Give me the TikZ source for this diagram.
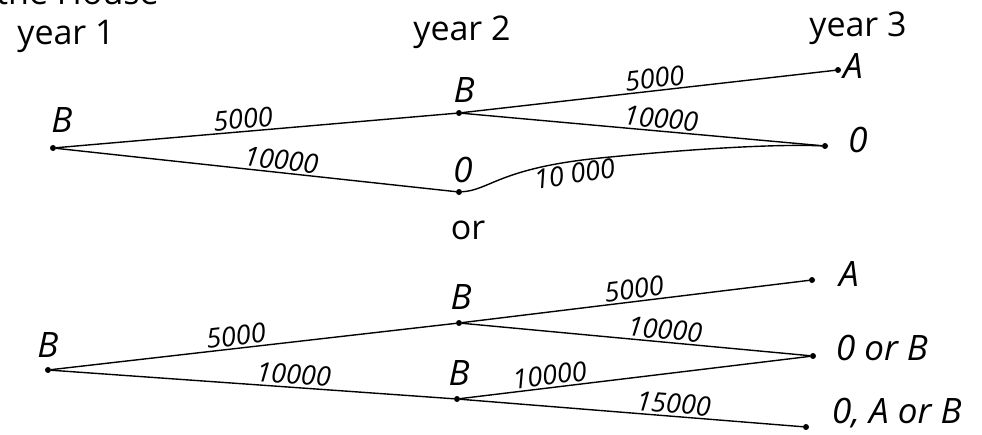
\documentclass[tikz,border=0pt]{standalone}
\usepackage{fontspec}
\setmainfont{Open Sans}
\usetikzlibrary{positioning, calc}

\tikzset{
	dot/.style={circle, fill=black, inner sep=0pt, minimum size=6pt},
	yearlbl/.style={font=\fontsize{34}{38}\selectfont, inner sep=0pt},
	statelbl/.style={font=\fontsize{35}{40}\selectfont\itshape, inner sep=0pt},
	cost/.style={font=\fontsize{27}{30}\selectfont\itshape, inner sep=2pt},
	branch/.style={line width=1.4pt},
}

\begin{document}
\begin{tikzpicture}[x=1pt, y=-1pt]
	\useasboundingbox (0,0) rectangle (982,435);
	
	% heading cut by the page edge
	\node[yearlbl, anchor=base west] (head) at (-4,5) {the House};
	
	\node[yearlbl] (y1) at (66,36) {year 1};
	\node[yearlbl] (y2) at (462,32) {year 2};
	\node[yearlbl] (y3) at (858,28) {year 3};
	
	% first tree
	\node[dot] (tb1) at (53,148) {};
	\node[dot] (tb2) at (459,113) {};
	\node[dot] (to2) at (459,192) {};
	\node[dot] (ta3) at (838,70) {};
	\node[dot] (to3) at (825,146) {};
	
	\node[statelbl] (tb1lbl) at (62,120) {B};
	\node[statelbl] (tb2lbl) at (464,90) {B};
	\node[statelbl] (to2lbl) at (463,170) {0};
	\node[statelbl, anchor=west] (ta3lbl) at (843,66) {A};
	\node[statelbl] (to3lbl) at (858,140) {0};
	
	\draw[branch] (tb1) -- node[cost, pos=0.47, above, sloped] {5000} (tb2);
	\draw[branch] (tb1) -- node[cost, pos=0.56, above, sloped] {10000} (to2);
	\draw[branch] (tb2) -- node[cost, pos=0.52, above, sloped] {5000} (ta3);
	\draw[branch] (tb2) -- node[cost, pos=0.55, above, sloped] {10000} (to3);
	\draw[branch] (to2) .. controls (490,190) and (500,168) .. node[cost, pos=0.9, below, sloped] {10 000} (600,158) .. controls (700,148) and (780,144) .. (to3);
	
	\node[yearlbl] (or) at (468,230) {or};
	
	% second tree
	\node[dot] (bb1) at (48,370) {};
	\node[dot] (bbt) at (459,323) {};
	\node[dot] (bbb) at (457,399) {};
	\node[dot] (ba3) at (812,280) {};
	\node[dot] (bob3) at (813,356) {};
	\node[dot] (boab3) at (806,427) {};
	
	\node[statelbl] (bb1lbl) at (48,345) {B};
	\node[statelbl] (bbtlbl) at (461,297) {B};
	\node[statelbl] (bbblbl) at (459,373) {B};
	\node[statelbl] (ba3lbl) at (849,274) {A};
	\node[statelbl] (bob3lbl) at (882,348) {0 or B};
	\node[statelbl, anchor=west] (boab3lbl) at (832,413) {0, A or B};
	
	\draw[branch] (bb1) -- node[cost, pos=0.46, above, sloped] {5000} (bbt);
	\draw[branch] (bb1) -- node[cost, pos=0.6, above, sloped] {10000} (bbb);
	\draw[branch] (bbt) -- node[cost, pos=0.5, above, sloped] {5000} (ba3);
	\draw[branch] (bbt) -- node[cost, pos=0.58, above, sloped] {10000} (bob3);
	\draw[branch] (bbb) -- node[cost, pos=0.26, above, sloped] {10000} (bob3);
	\draw[branch] (bbb) -- node[cost, pos=0.62, above, sloped] {15000} (boab3);
\end{tikzpicture}
\end{document}
